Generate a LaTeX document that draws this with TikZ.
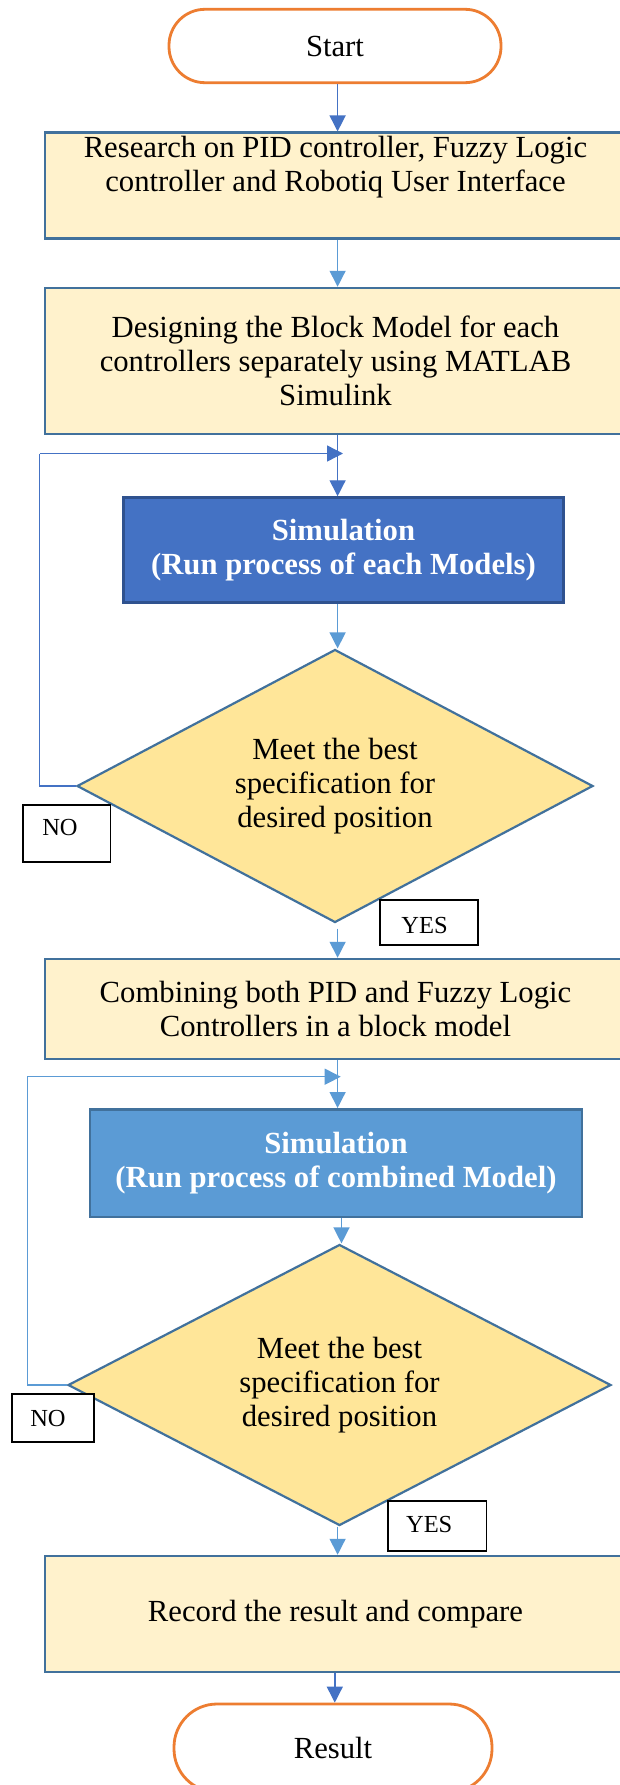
\documentclass[tikz,border=0pt]{standalone}
\usepackage{fontspec}
\setmainfont{Liberation Serif}
\usetikzlibrary{shapes.geometric,arrows.meta,calc}
\definecolor{orng}{HTML}{ED7D31}
\definecolor{boxfill}{HTML}{FFF2CC}
\definecolor{boxline}{HTML}{41719C}
\definecolor{blueA}{HTML}{4472C4}
\definecolor{blueAline}{HTML}{2F528F}
\definecolor{blueB}{HTML}{5B9BD5}
\definecolor{diafill}{HTML}{FFE699}
\begin{document}
\begin{tikzpicture}[x=1pt,y=-1pt,
  txt/.style={font=\fontsize{30.7}{34}\selectfont},
  term/.style={txt, draw=orng, line width=2.8pt, fill=white, inner sep=0pt},
  proc/.style={txt, draw=boxline, fill=boxfill, line width=2.5pt, minimum width=581pt, align=center, inner sep=0pt},
  simbox/.style={txt, text=white, align=center, inner sep=0pt, line width=2.5pt, font=\fontsize{30.7}{34}\selectfont\bfseries},
  decision/.style={txt, diamond, draw=boxline, fill=diafill, line width=2.2pt, align=center, inner sep=0pt},
  lblbox/.style={draw=black, line width=1.8pt, fill=white, inner sep=0pt},
  lbltext/.style={font=\fontsize{24.5}{28}\selectfont, inner sep=0pt},
  arrA/.style={draw=blueA, line width=1.4pt, -{Triangle[length=16pt,width=16pt]}},
  arrB/.style={draw=blueB, line width=1.4pt, -{Triangle[length=16pt,width=16pt]}},
  loopA/.style={draw=blueA, line width=1.4pt},
  loopB/.style={draw=blueB, line width=1.4pt}
]
\useasboundingbox[fill=white] (0,0) rectangle (619,1785);

% terminals
\node[term, minimum width=332pt, minimum height=73.4pt, rounded corners=36pt] (start) at (335,46) {Start};
\node[term, minimum width=318pt, minimum height=88pt, rounded corners=43pt] (result) at (333,1748) {Result};

% process boxes
\node[proc, minimum height=106pt] (b1) at (335.5,185.7)
  {Research on PID controller, Fuzzy Logic\\controller and Robotiq User Interface\\\strut};
\node[proc, minimum height=146pt] (b2) at (335.5,361)
  {Designing the Block Model for each\\controllers separately using MATLAB\\Simulink};
\node[proc, minimum height=100pt] (b3) at (335.5,1009)
  {Combining both PID and Fuzzy Logic\\Controllers in a block model};
\node[proc, minimum height=116pt] (b4) at (335.5,1614)
  {Record the result and compare};

% simulation boxes
\node[simbox, draw=blueAline, fill=blueA, minimum width=440pt, minimum height=105pt] (s1) at (343.5,550)
  {Simulation\\(Run process of each Models)};
\node[simbox, draw=boxline, fill=blueB, minimum width=492pt, minimum height=107.5pt] (s2) at (336,1163)
  {Simulation\\(Run process of combined Model)};

% decisions
\node[decision, minimum width=516pt, minimum height=273pt, aspect=1.89] (d1) at (335,786)
  {Meet the best\\specification for\\desired position};
\node[decision, minimum width=543pt, minimum height=281pt, aspect=1.93] (d2) at (339.5,1385)
  {Meet the best\\specification for\\desired position};

% helper coordinates
\coordinate (ax) at (337.6,0);
\coordinate (axs) at (341.5,0);
\coordinate (axr) at (334.8,0);
\coordinate (j1) at (343,453.5);
\coordinate (j2) at (340.7,1076.7);
\coordinate (l1) at (39.5,0);
\coordinate (l2) at (27.3,0);

% connectors
\draw[arrA] (start.south -| ax) -- (b1.north -| ax);
\draw[arrB] (b1.south -| ax) -- (b2.north -| ax);
\draw[arrA] (b2.south -| ax) -- (s1.north -| ax);
\draw[arrB] (s1.south -| ax) -- (d1.north -| ax);
\draw[arrB] ($(d1.south -| ax)+(0,5)$) -- (b3.north -| ax);
\draw[arrB] (b3.south -| ax) -- (s2.north -| ax);
\draw[arrB] (s2.south -| axs) -- (d2.north -| axs);
\draw[arrB] (d2.south -| ax) -- (b4.north -| ax);
\draw[arrA] (b4.south -| axr) -- (result.north -| axr);

% loops
\draw[loopA] (d1.west) -| (l1 |- j1);
\draw[arrA] (l1 |- j1) -- (j1);
\draw[loopB] (d2.west) -| (l2 |- j2);
\draw[arrB] (l2 |- j2) -- (j2);

% labels
\node[lblbox, minimum width=87.6pt, minimum height=56.7pt,
  label={[lbltext, xshift=-6.7pt, yshift=6.4pt]center:NO}] (no1) at (66.7,833.4) {};
\node[lblbox, minimum width=98pt, minimum height=45pt,
  label={[lbltext, xshift=-4.3pt, yshift=-2.5pt]center:YES}] (yes1) at (428.8,922.5) {};
\node[lblbox, minimum width=82.2pt, minimum height=48pt,
  label={[lbltext, xshift=-4.9pt, yshift=0pt]center:NO}] (no2) at (52.9,1418) {};
\node[lblbox, minimum width=98.4pt, minimum height=50.3pt,
  label={[lbltext, xshift=-8pt, yshift=1pt]center:YES}] (yes2) at (437.2,1525.9) {};
\end{tikzpicture}
\end{document}
